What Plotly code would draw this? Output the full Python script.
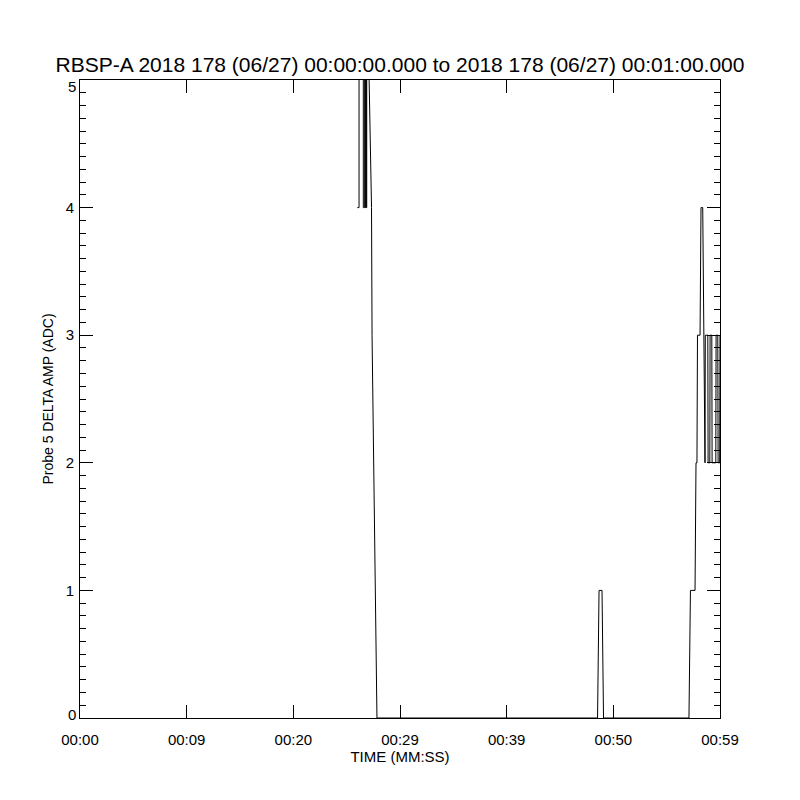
import plotly.graph_objects as go

# ---- data (time in seconds after 00:00:00, amplitude in ADC counts) ----
time_s = [
    26.00, 26.16, 26.16, 26.56, 26.56, 26.69, 26.69, 26.74, 26.74, 26.79, 26.79,
    26.84, 26.84, 26.88, 26.88, 27.33, 27.38, 27.52, 27.70, 27.84,
    48.52, 48.66, 48.94, 49.08,
    57.09, 57.23, 57.66, 57.75, 57.84, 57.89, 58.13, 58.22, 58.38, 58.528,
    58.594, 58.622, 58.856, 58.884, 59.044, 59.072, 59.231, 59.259, 59.606,
    59.634, 59.794, 59.822, 59.972, 60.0,
]
amp_adc = [
    4, 4, 6, 6, 4, 4, 6, 6, 4, 4, 6,
    6, 4, 4, 6, 4, 3, 2, 1, 0,
    0, 1, 1, 0,
    0, 1, 1, 2, 2, 3, 3, 4, 4, 2,
    2, 3, 3, 2, 2, 3, 3, 2, 2,
    3, 3, 2, 2, 3,
]
x_tick_vals = [0, 10, 20, 30, 40, 50, 60]
x_tick_text = ["00:00", "00:09", "00:20", "00:29", "00:39", "00:50", "00:59"]
y_tick_vals = [0, 1, 2, 3, 4, 5]
y_tick_text = ["0", "1", "2", "3", "4", "5"]

title_text = "RBSP-A 2018 178 (06/27) 00:00:00.000 to 2018 178 (06/27) 00:01:00.000"
x_title = "TIME (MM:SS)"
y_title = "Probe 5 DELTA AMP (ADC)"

FONT = "Liberation Sans, Arial, sans-serif"
W = H = 792  # page body has an 8px margin

fig = go.Figure()
fig.add_trace(go.Scatter(
    x=time_s, y=amp_adc, mode="lines",
    line=dict(color="black", width=1),
    showlegend=False, hoverinfo="skip",
))

# end labels (0 and 5) are nudged inward like in the original plot
axis_text = [("" if v in (y_tick_vals[0], y_tick_vals[-1]) else t)
             for v, t in zip(y_tick_vals, y_tick_text)]
annotations = []
for v, t in zip(y_tick_vals, y_tick_text):
    if v == y_tick_vals[0]:
        shift = 4
    elif v == y_tick_vals[-1]:
        shift = -6
    else:
        continue
    annotations.append(dict(
        text=t, xref="paper", x=0, xanchor="right", xshift=-2,
        yref="y", y=v, yanchor="middle", yshift=shift, showarrow=False,
        font=dict(family=FONT, size=15, color="black"),
    ))

fig.update_layout(
    width=W, height=H,
    margin=dict(l=72, r=80, t=72, b=82, pad=0),
    paper_bgcolor="white", plot_bgcolor="white",
    font=dict(family=FONT, color="black", size=15),
    title=dict(text=title_text, x=(400 - 8) / W, xanchor="center",
               y=1 - 57 / H, yanchor="middle", yref="container",
               font=dict(family=FONT, size=21, color="black")),
    annotations=annotations,
)

fig.update_xaxes(
    range=[0, 60], showgrid=False, zeroline=False,
    showline=True, linecolor="black", linewidth=1, mirror="ticks",
    ticks="inside", ticklen=13, tickwidth=1, tickcolor="black",
    tickvals=x_tick_vals, ticktext=x_tick_text,
    tickfont=dict(family=FONT, size=15, color="black"),
    ticklabelstandoff=8,
    title=dict(text=x_title, standoff=4,
               font=dict(family=FONT, size=15, color="black")),
    automargin=False,
)
fig.update_yaxes(
    range=[0, 5], showgrid=False, zeroline=False,
    showline=True, linecolor="black", linewidth=1, mirror="ticks",
    ticks="inside", ticklen=13, tickwidth=1, tickcolor="black",
    tickvals=y_tick_vals, ticktext=axis_text,
    tickfont=dict(family=FONT, size=15, color="black"),
    ticklabelstandoff=2,
    minor=dict(dtick=0.1, ticks="inside", ticklen=6, tickcolor="black",
               tickwidth=1, showgrid=False),
    title=dict(text=y_title, standoff=8,
               font=dict(family=FONT, size=14, color="black")),
    automargin=False,
)

fig.write_html("out.html")
